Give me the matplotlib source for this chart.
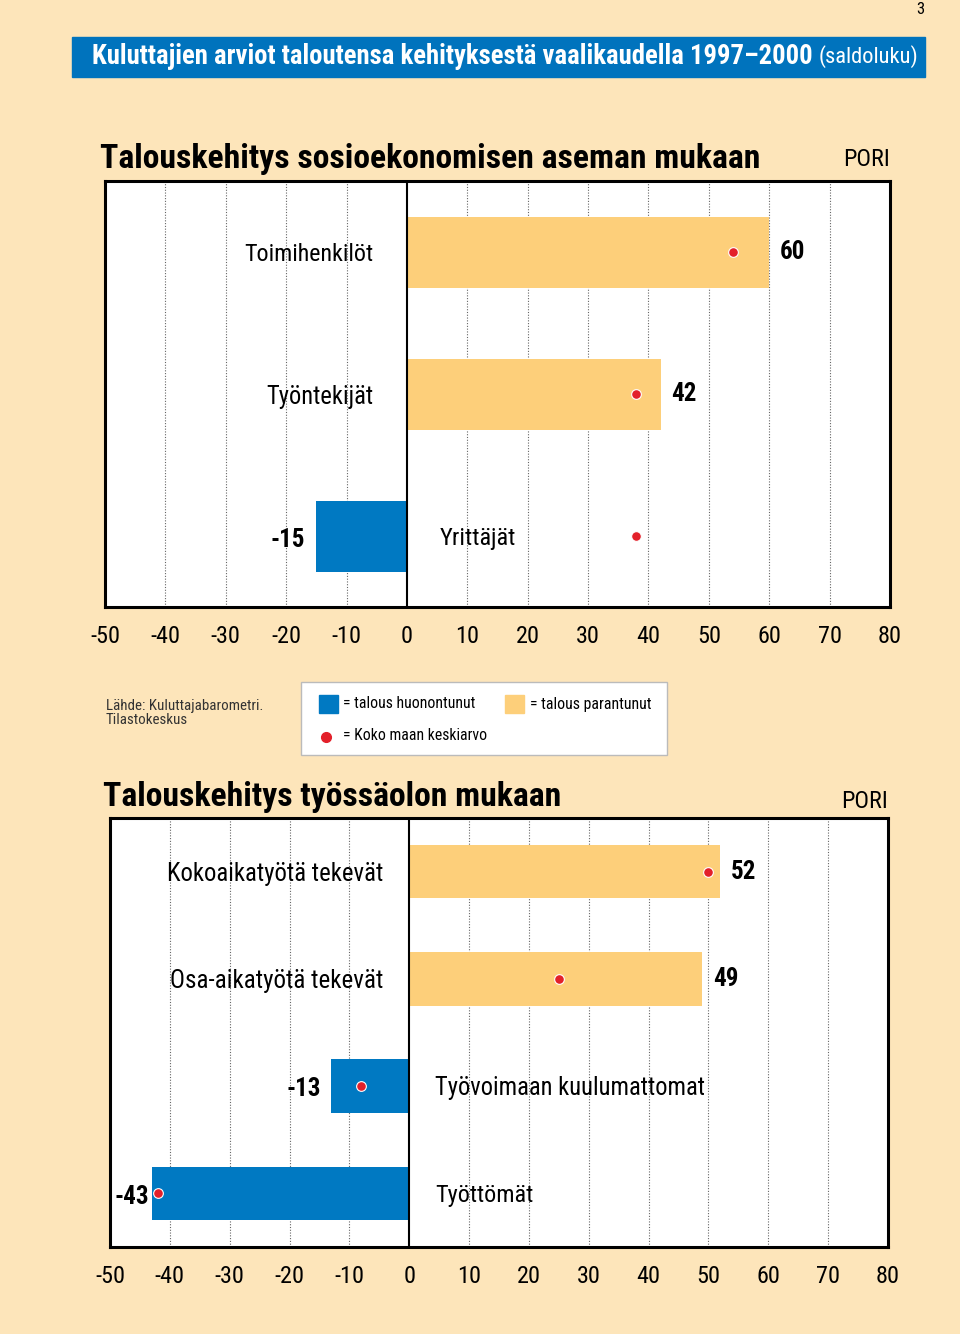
import numpy as np
import matplotlib
matplotlib.use("Agg")
from matplotlib import pyplot as plt
from matplotlib.patches import Rectangle

plt.rcParams['font.family'] = ['Roboto Condensed', 'Liberation Sans Narrow', 'DejaVu Sans Condensed',
                               'Roboto', 'DejaVu Sans']

# data: sosioekonominen asema
groups1 = ["Toimihenkilöt", "Työntekijät", "Yrittäjät"]
values1 = [60, 42, -15]
avg1 = [54, 38, 38]

# data: työssäolo
groups2 = ["Kokoaikatyötä tekevät", "Osa-aikatyötä tekevät", "Työvoimaan kuulumattomat", "Työttömät"]
values2 = [52, 49, -13, -43]
avg2 = [50, 25, -8, -42]

xticks = list(range(-50, 81, 10))

BG = "#FDE5BA"
BLUE = "#0079C2"
ORANGE = "#FDCF7A"
RED = "#E3202A"

W, H = 960, 1334
fig = plt.figure(figsize=(W / 100, H / 100), dpi=100)
fig.patch.set_facecolor(BG)
renderer = fig.canvas.get_renderer()


def fx(px):
    return px / W


def fy(py):
    return 1 - py / H


def fit(t, width):
    # shrink/grow font so the text is about as wide as in the reference
    w = t.get_window_extent(renderer=renderer).width
    t.set_fontsize(t.get_fontsize() * width / w)
    return t


# page number and header band
fig.text(fx(920), fy(9), "3", ha="center", va="center", fontsize=12)
fig.patches.append(Rectangle((fx(72), fy(77)), fx(925 - 72), (77 - 37) / H,
                             transform=fig.transFigure, color="#0073BD", zorder=0))
fit(fig.text(fx(92), fy(57), "Kuluttajien arviot taloutensa kehityksestä vaalikaudella 1997–2000",
             ha="left", va="center", color="white", fontsize=18, fontweight="bold"), 718)
fit(fig.text(fx(918), fy(57), "(saldoluku)", ha="right", va="center", color="white", fontsize=15), 100)


def draw_chart(rect, groups, values, avg, lab_off, val_offs, lab_w):
    ax = fig.add_axes(rect)
    ax.set_facecolor("white")
    y = np.arange(len(groups))
    colors = [ORANGE if v > 0 else BLUE for v in values]
    ax.barh(y, values, height=0.5, color=colors, zorder=2)
    ax.plot(avg, y, "o", color=RED, markersize=7, markeredgecolor="white",
            markeredgewidth=0.8, zorder=4)
    for yi, v, g, lw, vo in zip(y, values, groups, lab_w, val_offs):
        if v > 0:
            t = ax.text(-lab_off, yi + 0.02, g, ha="right", va="center", fontsize=16, zorder=5)
            ax.text(v + vo, yi, str(v), ha="left", va="center", fontsize=18,
                    fontweight="bold", zorder=5)
        else:
            t = ax.text(lab_off, yi + 0.02, g, ha="left", va="center", fontsize=16, zorder=5)
            ax.text(v - vo, yi + 0.03, str(v), ha="right", va="center", fontsize=18,
                    fontweight="bold", zorder=5)
        fit(t, lw)
    ax.set_xlim(-50, 80)
    ax.set_ylim(len(groups) - 0.5, -0.5)
    ax.set_xticks(xticks)
    ax.set_xticklabels([str(x) for x in xticks], fontsize=17.5)
    ax.set_yticks([])
    ax.tick_params(axis="x", length=0, pad=13)
    for x in xticks[1:-1]:
        if x != 0:
            ax.axvline(x, color="#666666", linestyle=(0, (1, 1.5)), linewidth=0.8, zorder=1)
    ax.axvline(0, color="black", linewidth=1.5, zorder=3)
    for s in ax.spines.values():
        s.set_linewidth(2.2)
        s.set_zorder(6)
    return ax


# chart 1
fit(fig.text(fx(100), fy(159), "Talouskehitys sosioekonomisen aseman mukaan", ha="left", va="center",
             fontsize=22, fontweight="bold"), 660)
fit(fig.text(fx(890), fy(160), "PORI", ha="right", va="center", fontsize=16), 47)
draw_chart([fx(105), fy(607), fx(890 - 105), (607 - 181) / H], groups1, values1, avg1, 5.5,
           [1.8, 1.8, 1.8], [129, 107, 76])

# source and legend
src = fig.text(fx(106), fy(713), "Lähde: Kuluttajabarometri.\nTilastokeskus", ha="left", va="center",
               fontsize=10, linespacing=1.05, color="#333333")
fit(src, 157)
fig.patches.append(Rectangle((fx(301), fy(755)), fx(667 - 301), (755 - 682) / H,
                             transform=fig.transFigure, facecolor="white", edgecolor="#BBBBBB",
                             linewidth=1, zorder=0))
fig.patches.append(Rectangle((fx(319), fy(713)), fx(19), 18 / H, transform=fig.transFigure,
                             color=BLUE))
fit(fig.text(fx(343), fy(704), "= talous huonontunut", ha="left", va="center", fontsize=11), 132)
fig.patches.append(Rectangle((fx(505), fy(713)), fx(19), 18 / H, transform=fig.transFigure,
                             color=ORANGE))
fit(fig.text(fx(530), fy(704), "= talous parantunut", ha="left", va="center", fontsize=11), 121)
fig.lines.append(plt.Line2D([fx(326)], [fy(737)], marker="o", color=RED, markersize=7,
                            transform=fig.transFigure))
fit(fig.text(fx(343), fy(735), "= Koko maan keskiarvo", ha="left", va="center", fontsize=11), 143)

# chart 2
fit(fig.text(fx(103), fy(797), "Talouskehitys työssäolon mukaan", ha="left", va="center",
             fontsize=22, fontweight="bold"), 458)
fit(fig.text(fx(888), fy(802), "PORI", ha="right", va="center", fontsize=16), 47)
draw_chart([fx(110), fy(1247), fx(888 - 110), (1247 - 818) / H], groups2, values2, avg2, 4.3,
           [1.8, 1.8, 1.8, 0.5], [216, 213, 270, 98])

fig.savefig("out.png", dpi=100, facecolor=BG)
